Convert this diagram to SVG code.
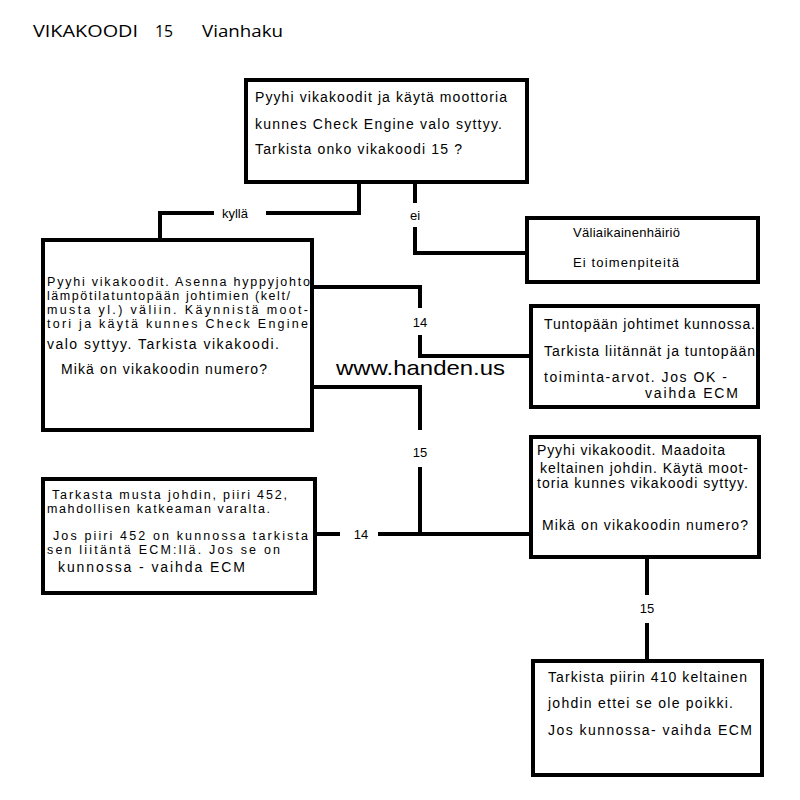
<svg xmlns="http://www.w3.org/2000/svg" width="800" height="800" viewBox="0 0 800 800">
<style>
.box{fill:#fff;stroke:#000;stroke-width:4}
.ln{fill:none;stroke:#000;stroke-width:4}
.t{font-family:"Liberation Sans",Arial,sans-serif;font-size:14px;fill:#000}
.s{font-size:13px}
.c{font-size:12.5px}
.lbl{font-family:"Liberation Sans",Arial,sans-serif;font-size:13px;fill:#000;text-anchor:middle}
.title{font-family:"Open Sans","Liberation Sans",sans-serif;font-size:17px;fill:#000}
.wm{font-family:"Liberation Sans",Arial,sans-serif;font-size:21px;fill:#000}
</style>
<rect width="800" height="800" fill="#fff"/>
<text class="title" x="33" y="37" textLength="105" lengthAdjust="spacingAndGlyphs">VIKAKOODI</text>
<text class="title" x="155" y="37" textLength="18" lengthAdjust="spacingAndGlyphs">15</text>
<text class="title" x="202" y="37" textLength="81" lengthAdjust="spacingAndGlyphs">Vianhaku</text>

<g id="connectors">
<path class="ln" d="M359,182 V213 H266 M214,213 H160 V240"/>
<text class="lbl" x="235" y="218">kyllä</text>
<path class="ln" d="M415,182 V203 M415,227 V253 H527"/>
<text class="lbl" x="415" y="220">ei</text>
<path class="ln" d="M312,287 H420 V308 M420,335 V356 H531"/>
<text class="lbl" x="420" y="327">14</text>
<path class="ln" d="M312,387 H420 V430 M420,467 V534"/>
<text class="lbl" x="420" y="457">15</text>
<path class="ln" d="M378,534 H531 M340,534 H315"/>
<text class="lbl" x="361" y="539">14</text>
<path class="ln" d="M647,557 V595 M647,623 V661"/>
<text class="lbl" x="647" y="613">15</text>
</g>

<g id="n1">
<rect class="box" x="246" y="80" width="281" height="102"/>
<text class="t" x="255" y="102" textLength="252" lengthAdjust="spacing">Pyyhi vikakoodit ja käytä moottoria</text>
<text class="t" x="255" y="129" textLength="247" lengthAdjust="spacing">kunnes Check Engine valo syttyy.</text>
<text class="t" x="255" y="154" textLength="207" lengthAdjust="spacing">Tarkista onko vikakoodi 15 ?</text>
</g>

<g id="n2">
<rect class="box" x="43" y="240" width="269" height="190"/>
<text class="t c" x="47" y="286" textLength="263" lengthAdjust="spacing">Pyyhi vikakoodit. Asenna hyppyjohto</text>
<text class="t c" x="47" y="300" textLength="243" lengthAdjust="spacing">lämpötilatuntopään johtimien (kelt/</text>
<text class="t c" x="47" y="314" textLength="261" lengthAdjust="spacing">musta yl.) väliin. Käynnistä moot-</text>
<text class="t c" x="47" y="328" textLength="261" lengthAdjust="spacing">tori ja käytä kunnes Check Engine</text>
<text class="t" x="47" y="349" textLength="232" lengthAdjust="spacing">valo syttyy. Tarkista vikakoodi.</text>
<text class="t" x="61" y="374" textLength="206" lengthAdjust="spacing">Mikä on vikakoodin numero?</text>
</g>

<g id="n3">
<rect class="box" x="527" y="218" width="231" height="64"/>
<text class="t s" x="573" y="237" textLength="107" lengthAdjust="spacing">Väliaikainenhäiriö</text>
<text class="t s" x="573" y="267" textLength="106" lengthAdjust="spacing">Ei toimenpiteitä</text>
</g>

<g id="n4">
<rect class="box" x="531" y="306" width="227" height="101"/>
<text class="t" x="544" y="329" textLength="211" lengthAdjust="spacing">Tuntopään johtimet kunnossa.</text>
<text class="t" x="544" y="356" textLength="211" lengthAdjust="spacing">Tarkista liitännät ja tuntopään</text>
<text class="t" x="544" y="382" textLength="183" lengthAdjust="spacing">toiminta-arvot. Jos OK -</text>
<text class="t" x="645" y="398" textLength="93" lengthAdjust="spacing">vaihda ECM</text>
</g>

<g id="n5">
<rect class="box" x="531" y="437" width="228" height="120"/>
<text class="t" x="537" y="455" textLength="188" lengthAdjust="spacing">Pyyhi vikakoodit. Maadoita</text>
<text class="t" x="540" y="473" textLength="208" lengthAdjust="spacing">keltainen johdin. Käytä moot-</text>
<text class="t" x="537" y="488" textLength="211" lengthAdjust="spacing">toria kunnes vikakoodi syttyy.</text>
<text class="t" x="542" y="530" textLength="206" lengthAdjust="spacing">Mikä on vikakoodin numero?</text>
</g>

<g id="n6">
<rect class="box" x="43" y="479" width="272" height="114"/>
<text class="t c" x="52" y="499" textLength="235" lengthAdjust="spacing">Tarkasta musta johdin, piiri 452,</text>
<text class="t c" x="47" y="513" textLength="223" lengthAdjust="spacing">mahdollisen katkeaman varalta.</text>
<text class="t c" x="53" y="540" textLength="255" lengthAdjust="spacing">Jos piiri 452 on kunnossa tarkista</text>
<text class="t c" x="47" y="554" textLength="233" lengthAdjust="spacing">sen liitäntä ECM:llä. Jos se on</text>
<text class="t" x="58" y="572" textLength="187" lengthAdjust="spacing">kunnossa - vaihda ECM</text>
</g>

<g id="n7">
<rect class="box" x="533" y="661" width="229" height="114"/>
<text class="t" x="548" y="682" textLength="199" lengthAdjust="spacing">Tarkista piirin 410 keltainen</text>
<text class="t" x="548" y="708" textLength="185" lengthAdjust="spacing">johdin ettei se ole poikki.</text>
<text class="t" x="548" y="735" textLength="204" lengthAdjust="spacing">Jos kunnossa- vaihda ECM</text>
</g>

<text class="wm" x="336" y="375" textLength="169" lengthAdjust="spacingAndGlyphs">www.handen.us</text>
</svg>
